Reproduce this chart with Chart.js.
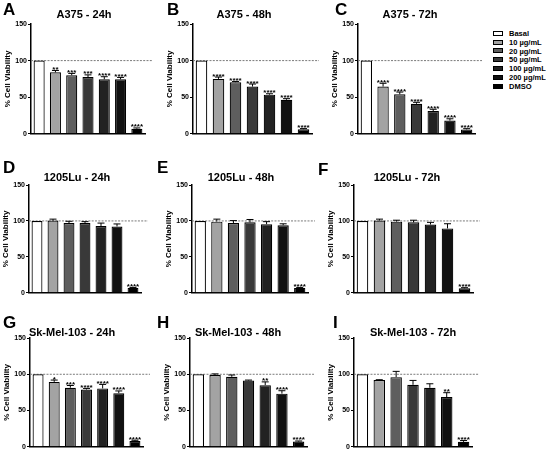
<!DOCTYPE html>
<html>
<head>
<meta charset="utf-8">
<script src="https://cdn.jsdelivr.net/npm/chart.js@4.4.1/dist/chart.umd.min.js"></script>
<style>
  body { margin: 0; background: #fff; }
  #fig { position: relative; width: 546px; height: 454px; overflow: hidden; font-family: Arial, "Liberation Sans", sans-serif; }
  .panel { position: absolute; }
  .letter { position: absolute; font: bold 17px Arial, "Liberation Sans", sans-serif; color: #000; line-height: 1; }
  .legend { position: absolute; left: 493px; top: 29px; }
  .legend .row { display: flex; align-items: center; height: 8.8px; }
  .legend .box { width: 10px; height: 5px; border: 1px solid #000; margin-right: 6px; box-sizing: border-box; }
  .legend .lbl { font: bold 7.5px Arial, "Liberation Sans", sans-serif; color: #000; white-space: nowrap; }
</style>
</head>
<body>
<div id="fig"></div>
<script>
// 组别与刻度
const categories = ['Basal', '10 µg/mL', '20 µg/mL', '50 µg/mL', '100 µg/mL', '200 µg/mL', 'DMSO'];
const yTicks = [0, 50, 100, 150];
const panelLetters = ['A', 'B', 'C', 'D', 'E', 'F', 'G', 'H', 'I'];
const panelTitles = ['A375 - 24h', 'A375 - 48h', 'A375 - 72h',
                     '1205Lu - 24h', '1205Lu - 48h', '1205Lu - 72h',
                     'Sk-Mel-103 - 24h', 'Sk-Mel-103 - 48h', 'Sk-Mel-103 - 72h'];

// 各面板的平均值 (% Cell Viability)
const a375_24h = [100, 84, 80, 77.5, 74.5, 74.5, 7];
const a375_48h = [100, 75, 70.5, 64.5, 53.5, 46.5, 6.3];
const a375_72h = [100, 64.5, 54, 41, 31, 18, 6];
const lu1205_24h = [100, 100.5, 97, 97, 93, 92.3, 6.8];
const lu1205_48h = [100, 99, 97, 98, 95.5, 94, 6.8];
const lu1205_72h = [100, 100.5, 99, 98, 95, 89.6, 6.3];
const sk103_24h = [100, 89.5, 81.5, 79, 80.5, 74, 8];
const sk103_48h = [100, 99, 96.5, 91.4, 85, 73.3, 7.2];
const sk103_72h = [100, 92, 96, 85.5, 81.4, 68.6, 6.8];

// 误差 (SEM)
const a375_24hErr = [0, 2.5, 2.5, 3, 3.5, 2.5, 1];
const a375_48hErr = [0, 2.5, 1, 3.5, 1.2, 1.5, 0.8];
const a375_72hErr = [0, 4.5, 3, 2, 2.5, 2.5, 1];
const lu1205_24hErr = [0, 2, 2.5, 2, 4, 3.5, 0.5];
const lu1205_48hErr = [0, 3.5, 3.5, 4, 3.5, 2, 0.5];
const lu1205_72hErr = [0, 2, 2, 3, 3, 6.5, 0.8];
const sk103_24hErr = [0, 2.5, 3, 1.5, 5.5, 3, 1];
const sk103_48hErr = [0, 1.5, 2.5, 0.6, 4.5, 4, 0.8];
const sk103_72hErr = [0, 0.5, 8, 6, 5.5, 6, 1.8];

// 显著性标记
const a375_24hSig = ['', '**', '***', '***', '****', '****', '****'];
const a375_48hSig = ['', '****', '****', '****', '****', '****', '****'];
const a375_72hSig = ['', '****', '****', '****', '****', '****', '****'];
const lu1205_24hSig = ['', '', '', '', '', '', '****'];
const lu1205_48hSig = ['', '', '', '', '', '', '****'];
const lu1205_72hSig = ['', '', '', '', '', '', '****'];
const sk103_24hSig = ['', '*', '***', '****', '****', '****', '****'];
const sk103_48hSig = ['', '', '', '', '**', '****', '****'];
const sk103_72hSig = ['', '', '', '', '', '**', '****'];

const panelValues = [a375_24h, a375_48h, a375_72h, lu1205_24h, lu1205_48h, lu1205_72h, sk103_24h, sk103_48h, sk103_72h];
const panelErrors = [a375_24hErr, a375_48hErr, a375_72hErr, lu1205_24hErr, lu1205_48hErr, lu1205_72hErr, sk103_24hErr, sk103_48hErr, sk103_72hErr];
const panelSig = [a375_24hSig, a375_48hSig, a375_72hSig, lu1205_24hSig, lu1205_48hSig, lu1205_72hSig, sk103_24hSig, sk103_48hSig, sk103_72hSig];

// 样式
const barColors = ['#ffffff', '#a3a3a3', '#5e5e5e', '#393939', '#222222', '#111111', '#000000'];
const FONT = 'Arial, "Liberation Sans", sans-serif';

// 布局: y轴x, 坐标轴右端, 绘图区顶部, 底部, 画布顶部, 标题中心x, 标题y, 字母x, 字母y
const layout = [
  { axisX: 31, right: 145, top: 24, bottom: 136, canvasTop: 0, titleX: 84, titleY: 15, lx: 3, ly: 1 },
  { axisX: 193, right: 312, top: 24, bottom: 136, canvasTop: 0, titleX: 244, titleY: 15, lx: 167, ly: 1 },
  { axisX: 358, right: 475, top: 24, bottom: 136, canvasTop: 0, titleX: 410, titleY: 15, lx: 335, ly: 1 },
  { axisX: 29, right: 141, top: 185, bottom: 295, canvasTop: 150, titleX: 77, titleY: 178, lx: 3, ly: 159 },
  { axisX: 192, right: 308, top: 185, bottom: 295, canvasTop: 150, titleX: 241, titleY: 178, lx: 157, ly: 159 },
  { axisX: 354, right: 473, top: 185, bottom: 295, canvasTop: 150, titleX: 407, titleY: 178, lx: 318, ly: 161 },
  { axisX: 30, right: 143, top: 338, bottom: 449, canvasTop: 305, titleX: 72, titleY: 333, lx: 3, ly: 314 },
  { axisX: 190, right: 307, top: 338, bottom: 449, canvasTop: 305, titleX: 238, titleY: 333, lx: 157, ly: 314 },
  { axisX: 354, right: 472, top: 338, bottom: 449, canvasTop: 305, titleX: 413, titleY: 333, lx: 333, ly: 314 }
];

const Y_AXIS_W = 30;
const PAD_RIGHT = 9;

// 误差线、显著性、100%虚线、标题
const annotatePlugin = {
  id: 'annotate',
  beforeDatasetsDraw(chart, args, opts) {
    const { ctx, chartArea, scales: { y } } = chart;
    const py = y.getPixelForValue(100);
    ctx.save();
    ctx.strokeStyle = '#7a7a7a';
    ctx.lineWidth = 1;
    ctx.setLineDash([2, 1.3]);
    ctx.beginPath();
    ctx.moveTo(chartArea.left, py);
    ctx.lineTo(chartArea.right + 7, py);
    ctx.stroke();
    ctx.restore();
  },
  afterDatasetsDraw(chart, args, opts) {
    const { ctx, scales: { y } } = chart;
    const meta = chart.getDatasetMeta(0);
    ctx.save();
    ctx.strokeStyle = '#000';
    ctx.fillStyle = '#000';
    ctx.lineWidth = 1;
    meta.data.forEach((bar, i) => {
      const v = opts.values[i];
      const e = opts.errors[i];
      const yTop = y.getPixelForValue(v + e);
      if (e > 0) {
        ctx.beginPath();
        ctx.moveTo(bar.x, y.getPixelForValue(v));
        ctx.lineTo(bar.x, yTop);
        ctx.moveTo(bar.x - 3.5, yTop);
        ctx.lineTo(bar.x + 3.5, yTop);
        ctx.stroke();
      }
      if (opts.sig[i]) {
        ctx.font = 'bold 8px ' + FONT;
        ctx.textAlign = 'center';
        ctx.textBaseline = 'alphabetic';
        ctx.fillText(opts.sig[i], bar.x, yTop + 1.5);
      }
    });
    ctx.font = 'bold 11px ' + FONT;
    ctx.textAlign = 'center';
    ctx.textBaseline = 'middle';
    ctx.fillText(opts.title, opts.titleX, opts.titleY);
    ctx.restore();
  }
};

const fig = document.getElementById('fig');

panelValues.forEach((values, p) => {
  const g = layout[p];
  const left = g.axisX - Y_AXIS_W;
  const w = g.right - g.axisX + Y_AXIS_W + PAD_RIGHT;
  const h = g.bottom - g.canvasTop + 3;

  const holder = document.createElement('div');
  holder.className = 'panel';
  holder.style.left = left + 'px';
  holder.style.top = g.canvasTop + 'px';
  const canvas = document.createElement('canvas');
  canvas.width = w;
  canvas.height = h;
  canvas.style.width = w + 'px';
  canvas.style.height = h + 'px';
  holder.appendChild(canvas);
  fig.appendChild(holder);

  const letter = document.createElement('div');
  letter.className = 'letter';
  letter.style.left = g.lx + 'px';
  letter.style.top = g.ly + 'px';
  letter.textContent = panelLetters[p];
  fig.appendChild(letter);

  new Chart(canvas, {
    type: 'bar',
    data: {
      labels: categories,
      datasets: [{
        data: values,
        backgroundColor: barColors,
        borderColor: '#000',
        borderWidth: 1.2,
        categoryPercentage: 0.68,
        barPercentage: 1
      }]
    },
    options: {
      responsive: false,
      animation: false,
      devicePixelRatio: 1,
      layout: { padding: { top: g.top - g.canvasTop, right: PAD_RIGHT, bottom: 2, left: 0 } },
      plugins: {
        legend: { display: false },
        tooltip: { enabled: false },
        annotate: {
          values: values,
          errors: panelErrors[p],
          sig: panelSig[p],
          title: panelTitles[p],
          titleX: g.titleX - left,
          titleY: g.titleY - g.canvasTop
        }
      },
      scales: {
        x: {
          ticks: { display: false },
          grid: { display: false, drawTicks: false },
          border: { display: true, color: '#000', width: 1.5 },
          afterFit: s => { s.height = 1; }
        },
        y: {
          min: 0,
          max: 150,
          afterBuildTicks: s => { s.ticks = yTicks.map(v => ({ value: v })); },
          ticks: { font: { size: 7, weight: 'bold', family: FONT }, color: '#000', padding: 1 },
          grid: { display: true, drawOnChartArea: false, drawTicks: true, tickLength: 3, color: '#000', lineWidth: 1 },
          border: { display: true, color: '#000', width: 1.5 },
          title: {
            display: true,
            text: '% Cell Viability',
            font: { size: 8, weight: 'bold', family: FONT },
            color: '#000',
            padding: { top: 2, bottom: 0 }
          },
          afterFit: s => { s.width = Y_AXIS_W; }
        }
      }
    },
    plugins: [annotatePlugin]
  });
});

// 图例
const legend = document.createElement('div');
legend.className = 'legend';
categories.forEach((name, i) => {
  const row = document.createElement('div');
  row.className = 'row';
  const box = document.createElement('span');
  box.className = 'box';
  box.style.background = barColors[i];
  const lbl = document.createElement('span');
  lbl.className = 'lbl';
  lbl.textContent = name;
  row.appendChild(box);
  row.appendChild(lbl);
  legend.appendChild(row);
});
fig.appendChild(legend);
</script>
</body>
</html>
